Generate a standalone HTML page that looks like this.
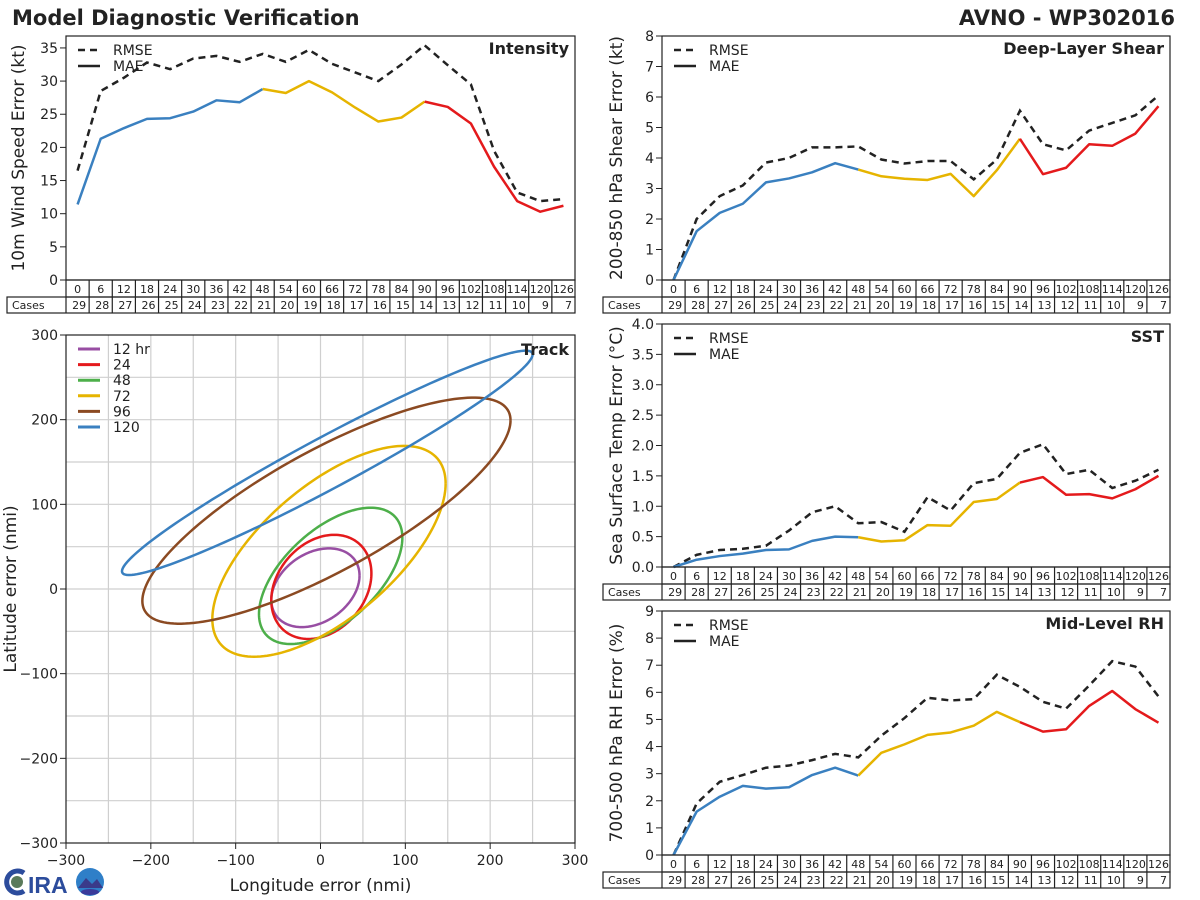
<!DOCTYPE html>
<html><head><meta charset="utf-8">
<style>
html,body{margin:0;padding:0;background:#fff;}
svg{display:block;font-family:"DejaVu Sans","Liberation Sans",sans-serif;}
</style></head>
<body>
<svg id="fig" width="1200" height="900" viewBox="0 0 1200 900" xmlns="http://www.w3.org/2000/svg">
<rect width="1200" height="900" fill="#fff"/>
<text x="12" y="25" font-size="21" font-weight="bold" fill="#222">Model Diagnostic Verification</text>
<text x="1175" y="25" font-size="21" font-weight="bold" fill="#222" text-anchor="end">AVNO - WP302016</text>
<g id="logo">
<path d="M24 873 A11 11 0 1 0 24 891" fill="none" stroke="#2c4c9c" stroke-width="5"/>
<circle cx="17" cy="882" r="6" fill="#5a7a5a"/>
<text x="28" y="893" font-size="23" font-weight="bold" fill="#2c4c9c" font-family="Liberation Sans, sans-serif">IRA</text>
<circle cx="90" cy="882" r="14" fill="#2f7fc8"/>
<path d="M78 888 L86 878 L92 884 L97 879 L103 888 Z" fill="#3a3a8a"/>
<ellipse cx="90" cy="892" rx="9" ry="3" fill="#3a3a9a"/>
</g>
</svg>
<script>
const NS = "http://www.w3.org/2000/svg";
const svg = document.getElementById('fig');

const hours = [0,6,12,18,24,30,36,42,48,54,60,66,72,78,84,90,96,102,108,114,120,126];
const cases = [29,28,27,26,25,24,23,22,21,20,19,18,17,16,15,14,13,12,11,10,9,7];

const intensityRmse = [16.5,28.5,30.5,32.8,31.8,33.4,33.8,32.9,34.1,32.9,34.7,32.6,31.3,30.0,32.5,35.4,32.4,29.5,19.5,13.2,11.9,12.2];
const intensityMae  = [11.4,21.3,22.9,24.3,24.4,25.4,27.1,26.8,28.8,28.2,30.0,28.3,26.0,23.9,24.5,26.9,26.1,23.6,17.1,11.9,10.3,11.2];
const intensityTicks = [0,5,10,15,20,25,30,35];

const shearRmse = [0,2.0,2.75,3.1,3.85,4.0,4.35,4.35,4.38,3.95,3.82,3.9,3.9,3.3,3.95,5.55,4.45,4.25,4.9,5.15,5.4,6.05];
const shearMae  = [0,1.6,2.2,2.5,3.2,3.33,3.53,3.83,3.62,3.4,3.32,3.28,3.48,2.75,3.6,4.63,3.47,3.68,4.45,4.4,4.8,5.7];
const shearTicks = [0,1,2,3,4,5,6,7,8];

const sstRmse = [0,0.2,0.28,0.3,0.35,0.6,0.9,1.0,0.72,0.74,0.58,1.15,0.93,1.38,1.45,1.88,2.02,1.53,1.6,1.3,1.42,1.6];
const sstMae  = [0,0.12,0.18,0.22,0.28,0.29,0.43,0.5,0.49,0.42,0.44,0.69,0.68,1.07,1.12,1.39,1.48,1.19,1.2,1.13,1.28,1.5];
const sstTicks = [0,0.5,1.0,1.5,2.0,2.5,3.0,3.5,4.0];

const rhRmse = [0,1.9,2.7,2.95,3.22,3.3,3.5,3.73,3.6,4.4,5.05,5.8,5.7,5.75,6.65,6.2,5.65,5.4,6.25,7.15,6.95,5.85];
const rhMae  = [0,1.6,2.15,2.55,2.45,2.5,2.95,3.22,2.93,3.77,4.08,4.43,4.52,4.77,5.28,4.9,4.55,4.64,5.5,6.05,5.38,4.88];
const rhTicks = [0,1,2,3,4,5,6,7,8,9];

const trackLabels = ['12 hr','24','48','72','96','120'];
const trackCx  = [-6, 1, 12, 10, 7, 8];
const trackCy  = [1.5, 2.5, 15.5, 44.5, 92.5, 149];
const trackAx  = [52, 59, 84.5, 137.5, 217, 242];
const trackAy  = [46.5, 61.5, 80.5, 124.5, 133.5, 132.5];
const trackPhi = [72, 75, 56, 50, 37, 15];
const trackTicks = [-300,-200,-100,0,100,200,300];
const trackColors = ['#984ea3','#e41a1c','#4daf4a','#e6b400','#8b4a22','#3a80c0'];

const BLUE='#3a80c0', YELLOW='#e6b400', RED='#e41a1c';

function el(tag, attrs, parent){
  const e = document.createElementNS(NS, tag);
  for (const k in attrs) e.setAttribute(k, attrs[k]);
  (parent||svg).appendChild(e);
  return e;
}
function txt(x,y,s,size,anchor,parent,extra){
  const t = el('text',Object.assign({x:x,y:y,'font-size':size,'text-anchor':anchor||'start',fill:'#222'},extra||{}),parent);
  t.textContent = s;
  return t;
}

function panel(o){
  const g = el('g',{});
  
  
  const n = hours.length, cw = (o.x1-o.x0)/n;
  const X = i => o.x0 + (i+0.5)*cw;
  const Y = v => o.y1 - v/o.ymax*(o.y1-o.y0);
  o.ticks.forEach(v=>{
    const y = Y(v);
    el('line',{x1:o.x0-6,x2:o.x0,y1:y,y2:y,stroke:'#222','stroke-width':1},g);
    const t = txt(o.x0-8,y+5,o.fmt(v),14,'end',g);
    
    
  });
  const yl = txt(0,0,o.label,17,'middle',g,{transform:`translate(${o.lx},${(o.y0+o.y1)/2}) rotate(-90)`});
  
  
  const rp = o.rmse.map((v,i)=>X(i)+','+Y(v)).join(' ');
  const rl = el('polyline',{points:rp,fill:'none',stroke:'#222','stroke-width':2.5,'stroke-dasharray':'7,5'},g);
  
  
  const segs = [[0,8,BLUE],[8,15,YELLOW],[15,n-1,RED]];
  segs.forEach(s=>{
    const pts=[]; for(let i=s[0];i<=s[1];i++) pts.push(X(i)+','+Y(o.mae[i]));
    const ml = el('polyline',{points:pts.join(' '),fill:'none',stroke:s[2],'stroke-width':2.5,'stroke-linejoin':'round'},g);
    
    
  });
  el('rect',{x:o.x0,y:o.y0,width:o.x1-o.x0,height:o.y1-o.y0,fill:'none',stroke:'#222','stroke-width':1.2},g);
  const lg = el('g',{},g);
  
  
  el('line',{x1:o.x0+12,x2:o.x0+34,y1:o.y0+14,y2:o.y0+14,stroke:'#222','stroke-width':2.5,'stroke-dasharray':'7,5'},lg);
  txt(o.x0+47,o.y0+19,'RMSE',14,'start',lg);
  el('line',{x1:o.x0+12,x2:o.x0+34,y1:o.y0+30,y2:o.y0+30,stroke:'#222','stroke-width':2.5},lg);
  txt(o.x0+47,o.y0+35,'MAE',14,'start',lg);
  const tt = txt(o.x1-6,o.y0+18,o.title,16,'end',g,{'font-weight':'bold'});
  
  
  const tb = el('g',{},g);
  
  
  const r0=o.y1, r1=o.y1+17, r2=o.y1+33;
  el('rect',{x:o.x0,y:r0,width:o.x1-o.x0,height:r1-r0,fill:'none',stroke:'#222','stroke-width':1.2},tb);
  el('rect',{x:o.cx,y:r1,width:o.x1-o.cx,height:r2-r1,fill:'none',stroke:'#222','stroke-width':1.2},tb);
  el('line',{x1:o.x0,x2:o.x0,y1:r1,y2:r2,stroke:'#222','stroke-width':1.2},tb);
  txt(o.cx+5,r2-4,'Cases',11,'start',tb);
  hours.forEach((h,i)=>{
    const xl = o.x0+i*cw;
    if(i>0) el('line',{x1:xl,x2:xl,y1:r0,y2:r2,stroke:'#222','stroke-width':1.2},tb);
    txt(X(i),r1-4,String(h),11,'middle',tb);
    txt(xl+cw-3,r2-4,String(cases[i]),11,'end',tb);
  });
}

panel({name:'intensity-panel',x0:66,x1:575,y0:36,y1:280,ymax:36.8,ticks:intensityTicks,fmt:v=>String(v),label:'10m Wind Speed Error (kt)',lx:24,title:'Intensity',rmse:intensityRmse,mae:intensityMae,cx:7});
panel({name:'shear-panel',x0:662,x1:1170,y0:36,y1:280,ymax:8,ticks:shearTicks,fmt:v=>String(v),label:'200-850 hPa Shear Error (kt)',lx:622,title:'Deep-Layer Shear',rmse:shearRmse,mae:shearMae,cx:603});
panel({name:'sst-panel',x0:662,x1:1170,y0:324,y1:567,ymax:4,ticks:sstTicks,fmt:v=>v.toFixed(1),label:'Sea Surface Temp Error (°C)',lx:622,title:'SST',rmse:sstRmse,mae:sstMae,cx:603});
panel({name:'rh-panel',x0:662,x1:1170,y0:611,y1:855,ymax:9,ticks:rhTicks,fmt:v=>String(v),label:'700-500 hPa RH Error (%)',lx:622,title:'Mid-Level RH',rmse:rhRmse,mae:rhMae,cx:603});

(function(){
  const x0=66,x1=575,y0=335,y1=843;
  const X = v => x0 + (v+300)/600*(x1-x0);
  const Y = v => y1 - (v+300)/600*(y1-y0);
  const g = el('g',{});
  
  
  for(let v=-250; v<=250; v+=50){
    el('line',{x1:X(v),x2:X(v),y1:y0,y2:y1,stroke:'#cfcfcf','stroke-width':1.2},g);
    el('line',{x1:x0,x2:x1,y1:Y(v),y2:Y(v),stroke:'#cfcfcf','stroke-width':1.2},g);
  }
  trackTicks.forEach(v=>{
    el('line',{x1:x0-6,x2:x0,y1:Y(v),y2:Y(v),stroke:'#222'},g);
    el('line',{x1:X(v),x2:X(v),y1:y1,y2:y1+6,stroke:'#222'},g);
    const a = txt(x0-8,Y(v)+5,(v<0?'\u2212':'')+Math.abs(v),14,'end',g);
    
    
    const b = txt(X(v),y1+22,(v<0?'\u2212':'')+Math.abs(v),14,'middle',g);
    
    
  });
  const xt = txt((x0+x1)/2,891,'Longitude error (nmi)',17,'middle',g);
  
  
  const yt = txt(0,0,'Latitude error (nmi)',17,'middle',g,{transform:`translate(16,${(y0+y1)/2}) rotate(-90)`});
  
  
  trackLabels.forEach((lab,k)=>{
    const pts=[];
    const ph = trackPhi[k]*Math.PI/180;
    for(let s=0;s<=180;s++){
      const t = s/180*2*Math.PI;
      pts.push(X(trackCx[k]+trackAx[k]*Math.cos(t))+','+Y(trackCy[k]+trackAy[k]*Math.cos(t-ph)));
    }
    const e = el('polyline',{points:pts.join(' '),fill:'none',stroke:trackColors[k],'stroke-width':2.5},g);
    
    
    const ly = 349 + k*15.6;
    const ls = el('line',{x1:78,x2:100,y1:ly,y2:ly,stroke:trackColors[k],'stroke-width':3},g);
    
    
    const lt = txt(113,ly+5,lab,14,'start',g);
    
    
  });
  el('rect',{x:x0,y:y0,width:x1-x0,height:y1-y0,fill:'none',stroke:'#222','stroke-width':1.2},g);
  const tt = txt(x1-6,y0+20,'Track',16,'end',g,{'font-weight':'bold'});
  
  
})();
svg.appendChild(document.getElementById('logo'));
</script>
</body></html>
